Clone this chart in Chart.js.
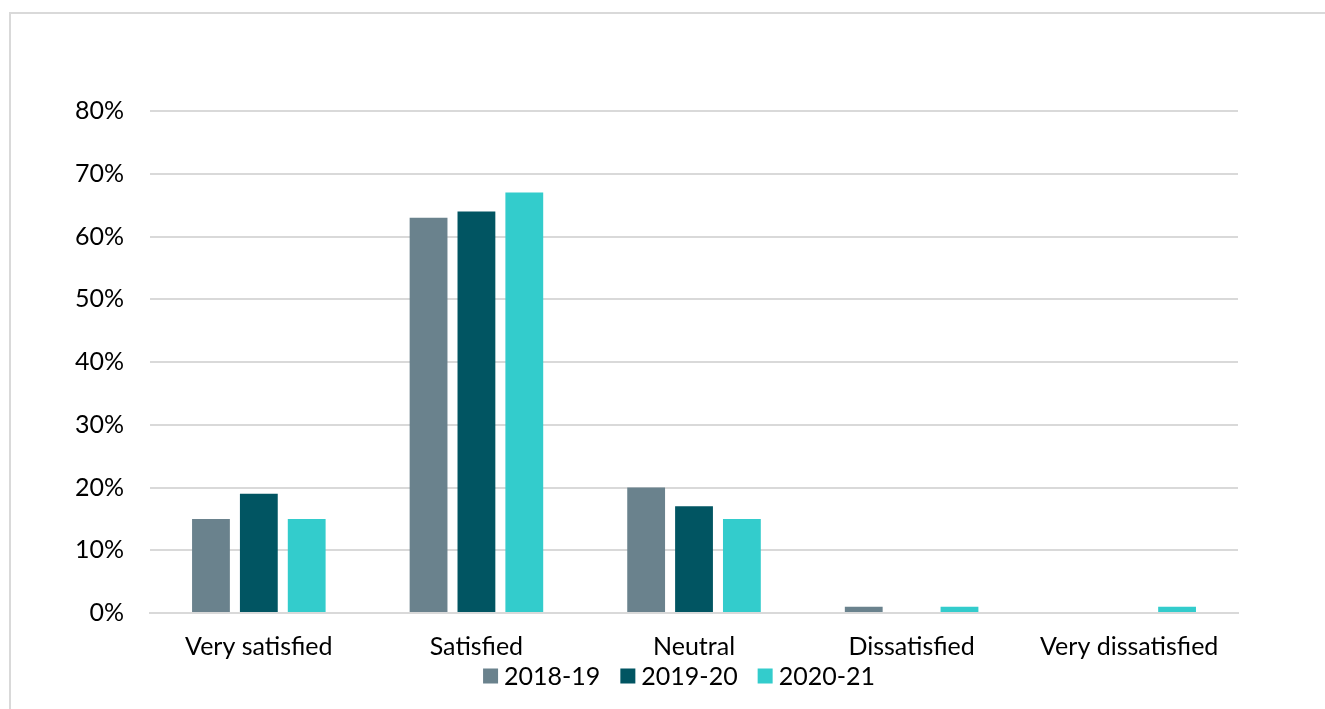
<!DOCTYPE html>
<html>
<head>
<meta charset="utf-8">
<script src="https://cdn.jsdelivr.net/npm/chart.js@4"></script>
<style>
    html, body { margin: 0; padding: 0; background: #fff; overflow: hidden; }
    #frame {
        position: absolute; left: 9px; top: 12px;
        width: 1330px; height: 710px;
        border-left: 2px solid #d9d9d9;
        border-top: 2px solid #d9d9d9;
    }
    #wrap { position: absolute; left: 0; top: 0; width: 1325px; height: 709px; }
</style>
</head>
<body>
<div id="frame"></div>
<div id="wrap"><canvas id="bar-chart"></canvas></div>
<script>
// Satisfaction categories and yearly shares (%)
const categories = ['Very satisfied', 'Satisfied', 'Neutral', 'Dissatisfied', 'Very dissatisfied'];
const seriesLabels = ['2018-19', '2019-20', '2020-21'];
const values1819 = [15, 63, 20, 1, 0];
const values1920 = [19, 64, 17, 0, 0];
const values2021 = [15, 67, 15, 1, 1];
const yTicks = [0, 10, 20, 30, 40, 50, 60, 70, 80];

const colors = ['#6a828d', '#015562', '#33cccc'];
const fontFamily = 'Lato, "Open Sans", sans-serif';

Chart.defaults.font.family = fontFamily;
Chart.defaults.color = '#000';

// Legend drawn by hand so the spacing matches the original (tight box-text gap)
const bottomLegend = {
    id: 'bottomLegend',
    afterDraw(chart) {
        const ctx = chart.ctx;
        const box = 15, gapText = 6, gapItem = 20;
        const centerX = 679, centerY = 676;
        ctx.save();
        ctx.font = '25px ' + fontFamily;
        ctx.textBaseline = 'middle';
        ctx.fillStyle = '#000';
        const items = chart.data.datasets.map(ds => ({
            label: ds.label,
            color: ds.backgroundColor,
            w: ctx.measureText(ds.label).width
        }));
        const total = items.reduce((acc, it) => acc + box + gapText + it.w, 0) + gapItem * (items.length - 1);
        let x = centerX - total / 2;
        items.forEach(it => {
            ctx.fillStyle = it.color;
            ctx.fillRect(x, centerY - box / 2, box, box);
            x += box + gapText;
            ctx.fillStyle = '#000';
            ctx.fillText(it.label, x, centerY + 1);
            x += it.w + gapItem;
        });
        ctx.restore();
    }
};

const ctx = document.getElementById('bar-chart').getContext('2d');
new Chart(ctx, {
    type: 'bar',
    data: {
        labels: categories,
        datasets: [values1819, values1920, values2021].map((data, i) => ({
            label: seriesLabels[i],
            data: data,
            backgroundColor: colors[i],
            barPercentage: 0.79,
            categoryPercentage: 0.66
        }))
    },
    options: {
        responsive: true,
        maintainAspectRatio: false,
        animation: false,
        layout: { padding: { left: 49, right: 87, top: 111, bottom: 36 } },
        plugins: {
            tooltip: { enabled: false },
            legend: { display: false }
        },
        scales: {
            x: {
                grid: { display: false },
                border: { display: true, color: '#d9d9d9', width: 2 },
                ticks: { font: { size: 25 }, padding: 11 }
            },
            y: {
                min: 0,
                max: 80,
                afterBuildTicks: axis => { axis.ticks = yTicks.map(v => ({ value: v })); },
                grid: { color: '#d9d9d9', lineWidth: 2, drawTicks: false },
                border: { display: false },
                ticks: {
                    font: { size: 25 },
                    padding: 26,
                    callback: v => v + '%'
                }
            }
        }
    },
    plugins: [bottomLegend]
});
</script>
</body>
</html>
